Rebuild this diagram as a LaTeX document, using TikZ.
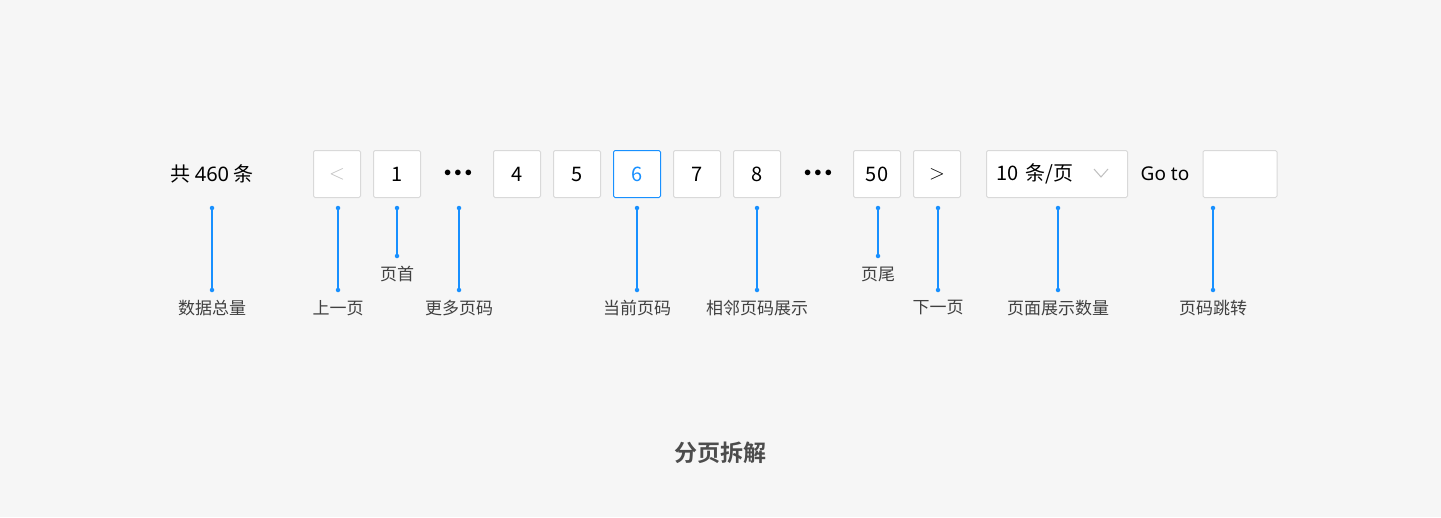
\documentclass[tikz,border=0pt]{standalone}
\usepackage{fontspec}
\setmainfont{Noto Sans CJK SC}
\newfontfamily\cjkb{Noto Sans CJK SC Bold}
\newfontfamily\lat{Noto Sans}
\begin{document}
\begin{tikzpicture}[x=1pt,y=-1pt,
  pbox/.style={draw=black!15,line width=1pt,fill=white,rounded corners=1.5pt,minimum width=47pt,minimum height=47pt,inner sep=0pt,font=\fontsize{20}{22}\selectfont},
  lbl/.style={font=\fontsize{17}{19}\selectfont,text=black!75},
  blu/.style={draw=bl,line width=1.2pt},
  dotb/.style={circle,fill=bl,inner sep=0pt,minimum size=4.5pt}]
\definecolor{bg}{HTML}{F6F6F6}
\definecolor{bl}{HTML}{1890FF}
\fill[bg] (0,0) rectangle (1441,517);
\useasboundingbox (0,0) rectangle (1441,517);
\node[font=\fontsize{20}{22}\selectfont] (tot) at (212,174) {共 {\lat 460} 条};
\node[pbox,text=black!25] (prev) at (337,174) {$<$};
\node[pbox] (p1) at (397,174) {1};
\node[font=\fontsize{15}{16}\selectfont] (m1) at (458,173) {$\bullet\bullet\bullet$};
\node[pbox] (p4) at (517,174) {4};
\node[pbox] (p5) at (577,174) {5};
\node[pbox,draw=bl,text=bl] (p6) at (637,174) {6};
\node[pbox] (p7) at (697,174) {7};
\node[pbox] (p8) at (757,174) {8};
\node[font=\fontsize{15}{16}\selectfont] (m2) at (818,173) {$\bullet\bullet\bullet$};
\node[pbox] (p50) at (877,174) {50};
\node[pbox] (next) at (937,174) {$>$};
\node[pbox,minimum width=141pt,anchor=west,text width=128pt,align=left] (dd) at (986,174) {\,10 条/页};
\draw[black!25,line width=1pt] (1094,169) -- (1101,177) -- (1108,169);
\node[font=\lat\fontsize{19}{20}\selectfont] (go) at (1165,174) {Go to};
\node[pbox,minimum width=74pt] (inp) at (1240,174) {};
\foreach \n/\x/\yb/\t in {a/212/290/数据总量,b/338/290/上一页,c/397/256/页首,d/459/290/更多页码,e/637/290/当前页码,f/757/290/相邻页码展示,g/878/256/页尾,h/938/290/下一页,i/1058/290/页面展示数量,j/1213/290/页码跳转}{
  \node[dotb] (\n t) at (\x,208) {};
  \node[dotb] (\n b) at (\x,\yb) {};
  \draw[blu] (\n t) -- (\n b);
  \node[lbl,below=7pt] (\n l) at (\n b) {\t};
}
\node[font=\cjkb\fontsize{23}{24}\selectfont,text=black!70] (title) at (720,453) {分页拆解};
\end{tikzpicture}
\end{document}
